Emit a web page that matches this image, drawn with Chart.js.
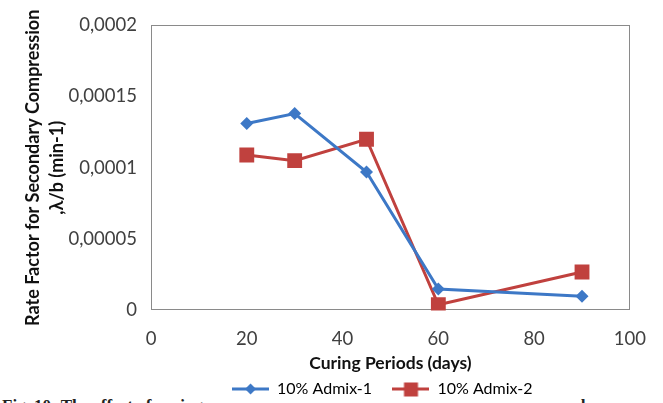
<!DOCTYPE html>
<html lang="en">
<head>
    <meta charset="UTF-8">
    <title>Rate Factor vs Curing Period</title>
    <script src="https://cdn.jsdelivr.net/npm/chart.js"></script>
    <style>
        body { margin: 0; background: #fff; }
        #wrap { position: relative; width: 663px; height: 403px; overflow: hidden; }
        #caption {
            position: absolute; left: 2px; top: 396px; white-space: nowrap;
            font-family: "Liberation Serif", serif; font-size: 17px; font-weight: bold; color: #222;
        }
        #rateChart { position: absolute; left: 0; top: 0; }
    </style>
</head>
<body>
<div id="wrap">
    <div id="caption">Fig. 10: The effect of curing periods on the variation of the rate factor for secondary compression (λ/b)</div>
    <canvas id="rateChart" width="663" height="407"></canvas>
</div>
<script>
    var days = [20, 30, 45, 60, 90];
    var admix1 = [0.000131, 0.000138, 0.000097, 0.000015, 0.000010];
    var admix2 = [0.000109, 0.000105, 0.000120, 0.000004, 0.000027];
    var seriesNames = ['10% Admix-1', '10% Admix-2'];
    var xTicks = [0, 20, 40, 60, 80, 100];
    var yTicks = [0, 0.00005, 0.0001, 0.00015, 0.0002];
    var yTickLabels = ['0', '0,00005', '0,0001', '0,00015', '0,0002'];

    var blue = '#3d78c6';
    var red = '#c0413e';
    var font = 'Lato, "Open Sans", sans-serif';

    function toPoints(ys) {
        return days.map(function(d, i) { return { x: d, y: ys[i] }; });
    }

    // legend icons: a short line with the marker on it, like Excel
    function legendIcon(color, shape) {
        var c = document.createElement('canvas');
        c.width = 37; c.height = 16;
        var g = c.getContext('2d');
        g.strokeStyle = color; g.lineWidth = 3;
        g.beginPath(); g.moveTo(0, 8); g.lineTo(37, 8); g.stroke();
        g.fillStyle = color;
        if (shape === 'diamond') {
            g.beginPath(); g.moveTo(18.5, 2.5); g.lineTo(24, 8); g.lineTo(18.5, 13.5); g.lineTo(13, 8); g.closePath(); g.fill();
        } else {
            g.fillRect(11.5, 1.5, 14, 14);
        }
        return c;
    }
    var icons = [legendIcon(blue, 'diamond'), legendIcon(red, 'square')];

    // white patch behind the legend items (the legend sits over the caption)
    var whiteLegend = {
        id: 'whiteLegend',
        beforeDraw: function(chart) {
            var boxes = chart.legend.legendHitBoxes, g = chart.ctx;
            if (!boxes || !boxes.length) return;
            var first = boxes[0], last = boxes[boxes.length - 1];
            g.save();
            g.fillStyle = '#fff';
            g.fillRect(first.left - 4, first.top - 2, last.left + last.width - first.left - 10, 40);
            g.restore();
        }
    };

    var frame = {
        id: 'frame',
        beforeDatasetsDraw: function(chart) {
            var a = chart.chartArea, g = chart.ctx;
            g.save();
            g.strokeStyle = '#8a8a8a'; g.lineWidth = 1;
            g.strokeRect(Math.round(a.left) + 0.5, Math.round(a.top) + 0.5,
                Math.round(a.right - a.left) - 1, Math.round(a.bottom - a.top) - 1);
            g.restore();
        }
    };

    var ctx = document.getElementById('rateChart').getContext('2d');
    var chart = new Chart(ctx, {
        type: 'scatter',
        data: {
            datasets: [{
                label: seriesNames[0],
                data: toPoints(admix1),
                showLine: true,
                borderColor: blue,
                backgroundColor: blue,
                borderWidth: 3,
                pointStyle: 'rectRot',
                pointRadius: 6.5,
                pointBorderWidth: 0
            }, {
                label: seriesNames[1],
                data: toPoints(admix2),
                showLine: true,
                borderColor: red,
                backgroundColor: red,
                borderWidth: 3,
                pointStyle: 'rect',
                pointRadius: 10.5,
                pointBorderWidth: 0
            }]
        },
        options: {
            responsive: false,
            animation: false,
            layout: { padding: { left: 18, right: 32, top: 9, bottom: 0 } },
            plugins: {
                tooltip: { enabled: false },
                legend: {
                    position: 'bottom',
                    fullSize: false,
                    labels: {
                        usePointStyle: true,
                        pointStyleWidth: 37,
                        boxHeight: 16,
                        padding: 4,
                        color: '#222',
                        font: { family: font, size: 16 },
                        generateLabels: function(ch) {
                            return ch.data.datasets.map(function(ds, i) {
                                return {
                                    // trailing spaces: gap between entries and a slight shift to the left
                                    text: ds.label + '    ',
                                    pointStyle: icons[i],
                                    fillStyle: ds.borderColor,
                                    strokeStyle: ds.borderColor,
                                    lineWidth: 0,
                                    hidden: false,
                                    datasetIndex: i
                                };
                            });
                        }
                    }
                }
            },
            scales: {
                x: {
                    type: 'linear',
                    min: 0, max: 100,
                    afterBuildTicks: function(s) { s.ticks = xTicks.map(function(v) { return { value: v }; }); },
                    afterFit: function(s) { s.height = 66.5; },
                    grid: { display: false, drawTicks: false },
                    border: { display: false },
                    ticks: { color: '#404040', padding: 17, font: { family: font, size: 18.5 } },
                    title: {
                        display: true,
                        text: 'Curing Periods (days)',
                        color: '#111',
                        padding: { top: 0, bottom: 3 },
                        font: { family: font, size: 17.5, weight: 'bold' }
                    }
                },
                y: {
                    min: 0, max: 0.0002,
                    afterBuildTicks: function(s) { s.ticks = yTicks.map(function(v) { return { value: v }; }); },
                    afterFit: function(s) { s.width = 133; },
                    grid: { display: false, drawTicks: false },
                    border: { display: false },
                    ticks: {
                        color: '#404040', padding: 14,
                        font: { family: font, size: 18.5 },
                        callback: function(v) {
                            var i = yTicks.indexOf(v);
                            return i >= 0 ? yTickLabels[i] : '';
                        }
                    },
                    title: {
                        display: true,
                        text: ['Rate Factor for Secondary Compression', ',λ/b (min-1)'],
                        color: '#111',
                        padding: { top: 3, bottom: 0 },
                        font: { family: font, size: 18, weight: 'bold', lineHeight: 1.33 }
                    }
                }
            }
        },
        plugins: [whiteLegend, frame]
    });
</script>
</body>
</html>
